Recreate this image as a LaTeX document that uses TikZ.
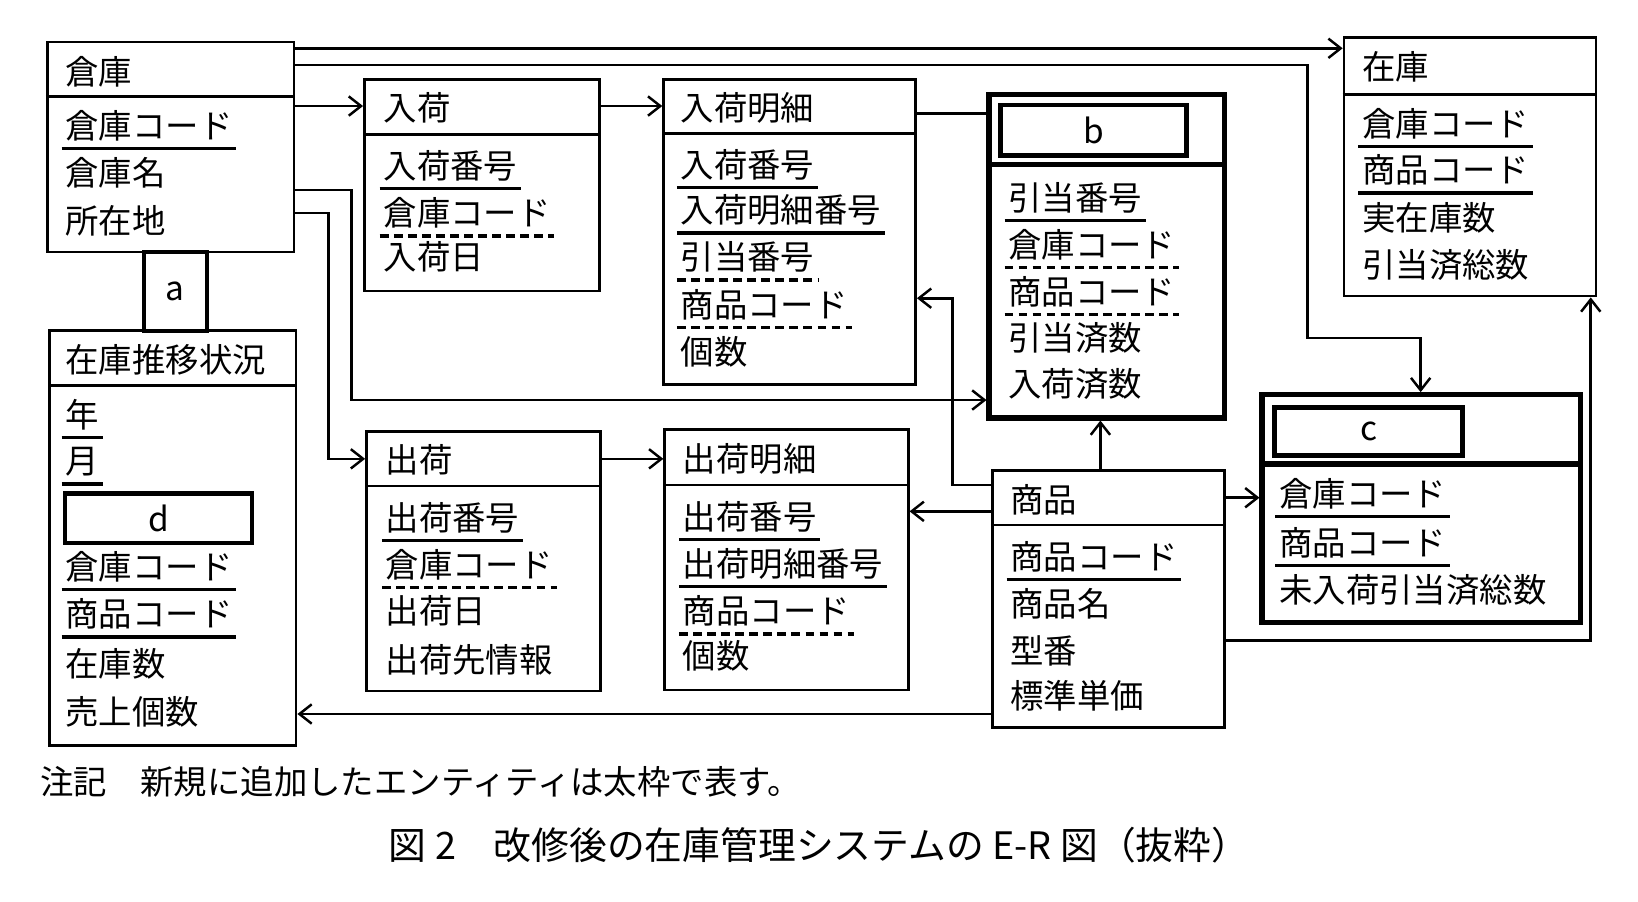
\documentclass[tikz,border=0pt]{standalone}
\usepackage{fontspec}
\setmainfont{Noto Sans CJK JP}
\usetikzlibrary{arrows.meta,fit}
\tikzset{
  ent/.style={draw,line width=1.5pt,inner sep=0pt},
  newent/.style={draw,line width=3pt,inner sep=0pt},
  attr/.style={anchor=west,inner sep=0pt,font=\fontsize{19}{22}\selectfont},
  pk/.style={line width=1.9pt},
  fk/.style={line width=1.9pt,dash pattern=on 5pt off 3pt},
  link/.style={line width=1.5pt},
}
% attribute text, and its underline
\newcommand\at[4]{\node[attr] (#1) at (#2,#3) {#4};}
\newcommand\ul[2]{\draw[#1] ([xshift=-2pt,yshift=-4pt]#2.south west) -- ([xshift=2pt,yshift=-4pt]#2.south east);}
\begin{document}
\begin{tikzpicture}[x=0.021cm,y=-0.021cm,>={Straight Barb[length=7pt,width=11pt,line width=1.4pt]}]
\useasboundingbox (0,0) rectangle (1560,859);

% entities
\node[ent,fit={(45,40)(280,240)}] (soko) {};
\draw[ent] (soko.west |- 0,92) -- (soko.east |- 0,92);
\at{sokoT}{62}{68}{倉庫}
\at{soko1}{62}{120}{倉庫コード}\ul{pk}{soko1}
\at{soko2}{62}{165}{倉庫名}
\at{soko3}{62}{210}{所在地}

\node[draw,line width=2.4pt,fit={(137,240)(197,315)},inner sep=0pt] (rela) {};
\node[attr,anchor=center] at (rela) {a};

\node[ent,fit={(47,315)(282,710)}] (suii) {};
\draw[ent] (suii.west |- 0,367) -- (suii.east |- 0,367);
\at{suiiT}{62}{343}{在庫推移状況}
\at{suii1}{62}{395}{年}\ul{pk}{suii1}
\at{suii2}{62}{440}{月}\ul{pk}{suii2}
\node[draw,line width=2.6pt,fit={(62,470)(240,517)},inner sep=0pt] (boxd) {};
\node[attr,anchor=center] at (boxd) {d};
\at{suii3}{62}{540}{倉庫コード}\ul{pk}{suii3}
\at{suii4}{62}{585}{商品コード}\ul{pk}{suii4}
\at{suii5}{62}{632}{在庫数}
\at{suii6}{62}{678}{売上個数}

\node[ent,fit={(347,76)(571,277)}] (nyuka) {};
\draw[ent] (nyuka.west |- 0,128) -- (nyuka.east |- 0,128);
\at{nyukaT}{365}{103}{入荷}
\at{nyuka1}{365}{158}{入荷番号}\ul{pk}{nyuka1}
\at{nyuka2}{365}{203}{倉庫コード}\ul{fk}{nyuka2}
\at{nyuka3}{365}{245}{入荷日}

\node[ent,fit={(632,76)(872,366)}] (nmei) {};
\draw[ent] (nmei.west |- 0,127) -- (nmei.east |- 0,127);
\at{nmeiT}{648}{103}{入荷明細}
\at{nmei1}{648}{157}{入荷番号}\ul{pk}{nmei1}
\at{nmei2}{648}{200}{入荷明細番号}\ul{pk}{nmei2}
\at{nmei3}{648}{245}{引当番号}\ul{fk}{nmei3}
\at{nmei4}{648}{290}{商品コード}\ul{fk}{nmei4}
\at{nmei5}{648}{335}{個数}

\node[newent,fit={(942,90)(1166,398)}] (hiki) {};
\draw[newent] (hiki.west |- 0,157) -- (hiki.east |- 0,157);
\node[draw,line width=2.6pt,fit={(953,100)(1130,148)},inner sep=0pt] (boxb) {};
\node[attr,anchor=center] at (boxb) {b};
\at{hiki1}{960}{188}{引当番号}\ul{pk}{hiki1}
\at{hiki2}{960}{233}{倉庫コード}\ul{fk}{hiki2}
\at{hiki3}{960}{278}{商品コード}\ul{fk}{hiki3}
\at{hiki4}{960}{322}{引当済数}
\at{hiki5}{960}{366}{入荷済数}

\node[ent,fit={(1280,36)(1520,282)}] (zaiko) {};
\draw[ent] (zaiko.west |- 0,90) -- (zaiko.east |- 0,90);
\at{zaikoT}{1297}{64}{在庫}
\at{zaiko1}{1297}{118}{倉庫コード}\ul{pk}{zaiko1}
\at{zaiko2}{1297}{162}{商品コード}\ul{pk}{zaiko2}
\at{zaiko3}{1297}{207}{実在庫数}
\at{zaiko4}{1297}{252}{引当済総数}

\node[newent,fit={(1202,376)(1505,593)}] (miny) {};
\draw[newent] (miny.west |- 0,442) -- (miny.east |- 0,442);
\node[draw,line width=2.6pt,fit={(1214,388)(1393,434)},inner sep=0pt] (boxc) {};
\node[attr,anchor=center] at (boxc) {c};
\at{miny1}{1218}{470}{倉庫コード}\ul{pk}{miny1}
\at{miny2}{1218}{517}{商品コード}\ul{pk}{miny2}
\at{miny3}{1218}{562}{未入荷引当済総数}

\node[ent,fit={(349,411)(572,658)}] (shuka) {};
\draw[ent] (shuka.west |- 0,463) -- (shuka.east |- 0,463);
\at{shukaT}{367}{438}{出荷}
\at{shuka1}{367}{493}{出荷番号}\ul{pk}{shuka1}
\at{shuka2}{367}{538}{倉庫コード}\ul{fk}{shuka2}
\at{shuka3}{367}{582}{出荷日}
\at{shuka4}{367}{628}{出荷先情報}

\node[ent,fit={(633,409)(865,657)}] (smei) {};
\draw[ent] (smei.west |- 0,462) -- (smei.east |- 0,462);
\at{smeiT}{650}{437}{出荷明細}
\at{smei1}{650}{492}{出荷番号}\ul{pk}{smei1}
\at{smei2}{650}{537}{出荷明細番号}\ul{pk}{smei2}
\at{smei3}{650}{582}{商品コード}\ul{fk}{smei3}
\at{smei4}{650}{625}{個数}

\node[ent,fit={(945,448)(1166,693)}] (shohin) {};
\draw[ent] (shohin.west |- 0,500) -- (shohin.east |- 0,500);
\at{shohinT}{962}{476}{商品}
\at{shohin1}{962}{530}{商品コード}\ul{pk}{shohin1}
\at{shohin2}{962}{575}{商品名}
\at{shohin3}{962}{620}{型番}
\at{shohin4}{962}{663}{標準単価}

% connectors
\draw[link,->] (soko.east |- 0,46) -- (zaiko.west |- 0,46);
\draw[link,->] (soko.east |- 0,62) -- (1245,62) -- (1245,322) -- (1353,322) -- (miny.north -| 1353,0);
\draw[link,->] (soko.east |- 0,101) -- (nyuka.west |- 0,101);
\draw[link,->] (nyuka.east |- 0,101) -- (nmei.west |- 0,101);
\draw[link] (nmei.east |- 0,108) -- (hiki.west |- 0,108);
\draw[link,->] (soko.east |- 0,181) -- (335,181) -- (335,381) -- (hiki.west |- 0,381);
\draw[link,->] (soko.east |- 0,203) -- (313,203) -- (313,437) -- (shuka.west |- 0,437);
\draw[link,->] (shuka.east |- 0,437) -- (smei.west |- 0,437);
\draw[link,->] (shohin.north -| 1048,0) -- (hiki.south -| 1048,0);
\draw[link,->] (shohin.west |- 0,462) -- (907,462) -- (907,284) -- (nmei.east |- 0,284);
\draw[link,->] (shohin.west |- 0,487) -- (smei.east |- 0,487);
\draw[link,->] (shohin.east |- 0,474) -- (miny.west |- 0,474);
\draw[link,->] (shohin.east |- 0,610) -- (1515,610) -- (zaiko.south -| 1515,0);
\draw[link,->] (shohin.west |- 0,680) -- (suii.east |- 0,680);

% notes
\node[attr] (note) at (38,745) {注記\quad 新規に追加したエンティティは太枠で表す。};
\node[attr,anchor=center,font=\fontsize{21.5}{24}\selectfont] (caption) at (780,805) {図 2\quad 改修後の在庫管理システムの E-R 図（抜粋）};
\end{tikzpicture}
\end{document}
